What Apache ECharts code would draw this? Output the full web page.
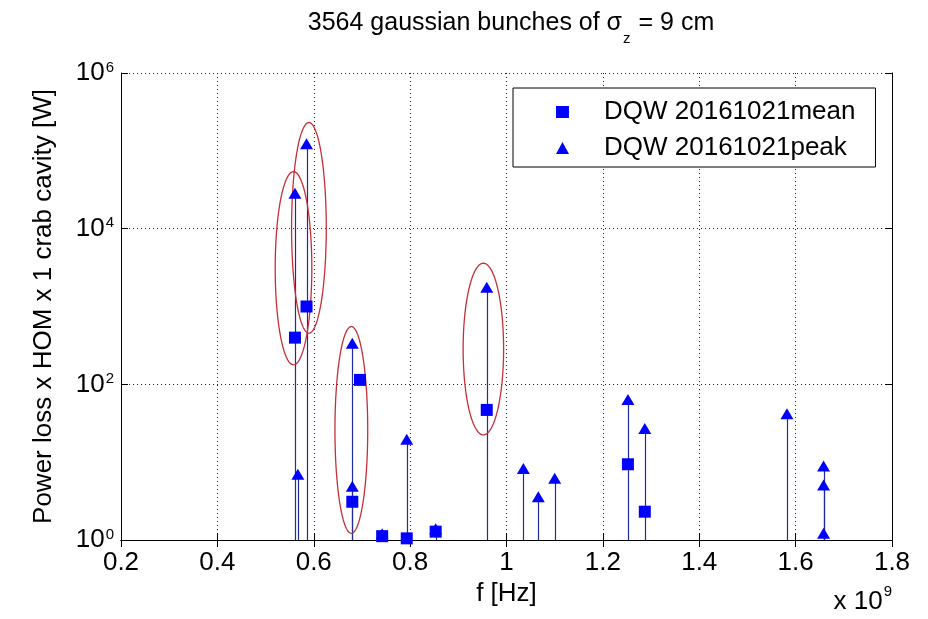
<!DOCTYPE html>
<html>
<head>
<meta charset="utf-8">
<script src="https://cdn.jsdelivr.net/npm/echarts@6/dist/echarts.min.js"></script>
<style>
  html, body { margin: 0; padding: 0; background: #fff; }
  #chart { width: 928px; height: 619px; }
</style>
</head>
<body>
<div id="chart"></div>
<script>
// Frequencies in units of 1e9 Hz, power in W.
const peakFreq  = [0.561, 0.567, 0.585, 0.680, 0.680, 0.742, 0.793, 0.853, 0.959, 1.035, 1.066, 1.100, 1.252, 1.287, 1.582, 1.658, 1.658, 1.658];
const peakPower = [2.86e4, 7.0, 1.23e5, 336, 4.9, 1.2, 19.7, 1.4, 1770, 8.3, 3.6, 6.2, 64, 27, 42, 8.9, 5.1, 1.22];

const meanFreq  = [0.561, 0.585, 0.680, 0.696, 0.742, 0.793, 0.853, 0.959, 1.252, 1.287];
const meanPower = [398, 1000, 3.1, 114, 1.12, 1.05, 1.28, 46.9, 9.4, 2.31];

// Highlighted groups: centre frequency, half width (1e9 Hz), lower / upper power (W)
const ringCenter = [0.558, 0.590, 0.678, 0.952];
const ringHalf   = [0.038, 0.036, 0.034, 0.042];
const ringLow    = [178, 454, 1.22, 22.4];
const ringHigh   = [5.4e4, 2.31e5, 552, 3600];

const xTicks = [0.2, 0.4, 0.6, 0.8, 1.0, 1.2, 1.4, 1.6, 1.8];
const yDecades = [0, 2, 4, 6];

const seriesNames = ['DQW 20161021mean', 'DQW 20161021peak'];

const lg = Math.log10;
const markerBlue = '#0000ff';
const stemBlue = '#1f2a9e';
const ringRed = '#c4303a';
const FONT = 'Liberation Sans, Arial, Helvetica, sans-serif';

// Stems rise from the bottom of the axis to each peak value
const stemData = peakFreq.map((f, i) => [f, lg(peakPower[i])]);

const ringData = ringCenter.map((c, i) => [c, ringHalf[i], lg(ringLow[i]), lg(ringHigh[i])]);

const chart = echarts.init(document.getElementById('chart'), null, { renderer: 'canvas' });

const axisBase = {
  min: xTicks[0], max: xTicks[xTicks.length - 1], interval: 0.2, type: 'value'
};

chart.setOption({
  backgroundColor: '#fff',
  animation: false,
  textStyle: { fontFamily: FONT },
  title: {
    left: 506, top: 6, textAlign: 'center',
    text: '{a|3564 gaussian bunches of σ}{z|z}{a| = 9 cm}',
    textStyle: {
      fontWeight: 'normal',
      rich: {
        a: { fontSize: 25, fontFamily: FONT, fontWeight: 'normal', color: '#000', lineHeight: 30, verticalAlign: 'top' },
        z: { fontSize: 15, fontFamily: FONT, fontWeight: 'normal', color: '#000', lineHeight: 15, padding: [20, 1, 0, 1], verticalAlign: 'top' }
      }
    }
  },
  legend: {
    left: 513, top: 88, orient: 'vertical',
    backgroundColor: '#fff', borderColor: '#000', borderWidth: 1,
    padding: [10, 20, 5, 43],
    itemWidth: 13, itemHeight: 12, itemGap: 8,
    textStyle: { fontSize: 26, fontFamily: FONT, color: '#000', lineHeight: 28, padding: [0, 0, 0, 30] },
    data: [
      { name: seriesNames[0], icon: 'rect' },
      { name: seriesNames[1], icon: 'triangle' }
    ]
  },
  grid: { left: 121, right: 36, top: 73, bottom: 79, containLabel: false },
  xAxis: [
    Object.assign({}, axisBase, {
      position: 'bottom',
      name: 'f [Hz]', nameLocation: 'middle', nameGap: 38,
      nameTextStyle: { fontSize: 26, fontFamily: FONT, color: '#000' },
      axisLine: { lineStyle: { color: '#000', width: 1 } },
      axisTick: { inside: true, length: 7, lineStyle: { color: '#000' } },
      axisLabel: {
        fontSize: 26, fontFamily: FONT, color: '#000', margin: 10,
        formatter: v => String(Number(v.toFixed(1)))
      },
      splitLine: { show: true, lineStyle: { color: '#222', type: [1, 3], width: 1 } }
    }),
    Object.assign({}, axisBase, {
      position: 'top',
      axisLine: { lineStyle: { color: '#000', width: 1 } },
      axisTick: { inside: true, length: 7, lineStyle: { color: '#000' } },
      axisLabel: { show: false },
      splitLine: { show: false }
    })
  ],
  yAxis: [
    {
      type: 'value', min: 0, max: 6, interval: 2, position: 'left',
      name: 'Power loss x HOM x 1 crab cavity [W]', nameLocation: 'middle', nameGap: 64, nameRotate: 90,
      nameTextStyle: { fontSize: 26, fontFamily: FONT, color: '#000' },
      axisLine: { show: true, lineStyle: { color: '#000', width: 1 } },
      axisTick: { inside: true, length: 7, lineStyle: { color: '#000' } },
      axisLabel: {
        margin: 7,
        formatter: v => '{b|10}{s|' + v + '}',
        rich: {
          b: { fontSize: 26, fontFamily: FONT, color: '#000', lineHeight: 26, padding: [13, 0, 13, 0] },
          s: { fontSize: 15, fontFamily: FONT, color: '#000', lineHeight: 16, padding: [0, 0, 36, 1], verticalAlign: 'top' }
        }
      },
      splitLine: { show: true, lineStyle: { color: '#222', type: [1, 3], width: 1 } }
    },
    {
      type: 'value', min: 0, max: 6, interval: 2, position: 'right',
      axisLine: { show: true, lineStyle: { color: '#000', width: 1 } },
      axisTick: { inside: true, length: 7, lineStyle: { color: '#000' } },
      axisLabel: { show: false },
      splitLine: { show: false }
    }
  ],
  graphic: [
    {
      type: 'text', right: 36, bottom: 0,
      style: {
        text: '{m|x 10}{e|9}',
        rich: {
          m: { fontSize: 26, fontFamily: FONT, fill: '#000', lineHeight: 26, padding: [10, 0, 0, 0] },
          e: { fontSize: 15, fontFamily: FONT, fill: '#000', lineHeight: 16, padding: [0, 0, 20, 1], verticalAlign: 'top' }
        }
      }
    }
  ],
  series: [
    {
      type: 'custom', name: 'stems', silent: true, z: 2,
      clip: true,
      data: stemData,
      renderItem: (params, api) => {
        const f = api.value(0), v = api.value(1);
        const p0 = api.coord([f, 0]);
        const p1 = api.coord([f, v]);
        return {
          type: 'line',
          shape: { x1: Math.round(p0[0]) + 0.5, y1: p0[1], x2: Math.round(p1[0]) + 0.5, y2: p1[1] },
          style: { stroke: stemBlue, lineWidth: 1.2 }
        };
      }
    },
    {
      type: 'scatter', name: seriesNames[0], z: 4,
      symbol: 'rect', symbolSize: 12,
      itemStyle: { color: markerBlue, opacity: 1 },
      data: meanFreq.map((f, i) => [f, lg(meanPower[i])])
    },
    {
      type: 'scatter', name: seriesNames[1], z: 4,
      symbol: 'triangle', symbolSize: [13, 11],
      itemStyle: { color: markerBlue, opacity: 1 },
      data: peakFreq.map((f, i) => [f, lg(peakPower[i])])
    },
    {
      type: 'custom', name: 'groups', silent: true, z: 3,
      data: ringData,
      encode: { x: 0, y: [2, 3] },
      renderItem: (params, api) => {
        const c = api.value(0), h = api.value(1), lo = api.value(2), hi = api.value(3);
        const a = api.coord([c - h, lo]);
        const b = api.coord([c + h, hi]);
        const cx = (a[0] + b[0]) / 2, cy = (a[1] + b[1]) / 2;
        const rx = Math.abs(b[0] - a[0]) / 2, ry = Math.abs(b[1] - a[1]) / 2;
        const pts = [];
        for (let k = 0; k < 120; k++) {
          const t = (k / 120) * Math.PI * 2;
          pts.push([cx + rx * Math.cos(t), cy + ry * Math.sin(t)]);
        }
        return {
          type: 'polygon',
          shape: { points: pts },
          style: { fill: 'none', stroke: ringRed, lineWidth: 1.3 }
        };
      }
    }
  ]
});
</script>
</body>
</html>
